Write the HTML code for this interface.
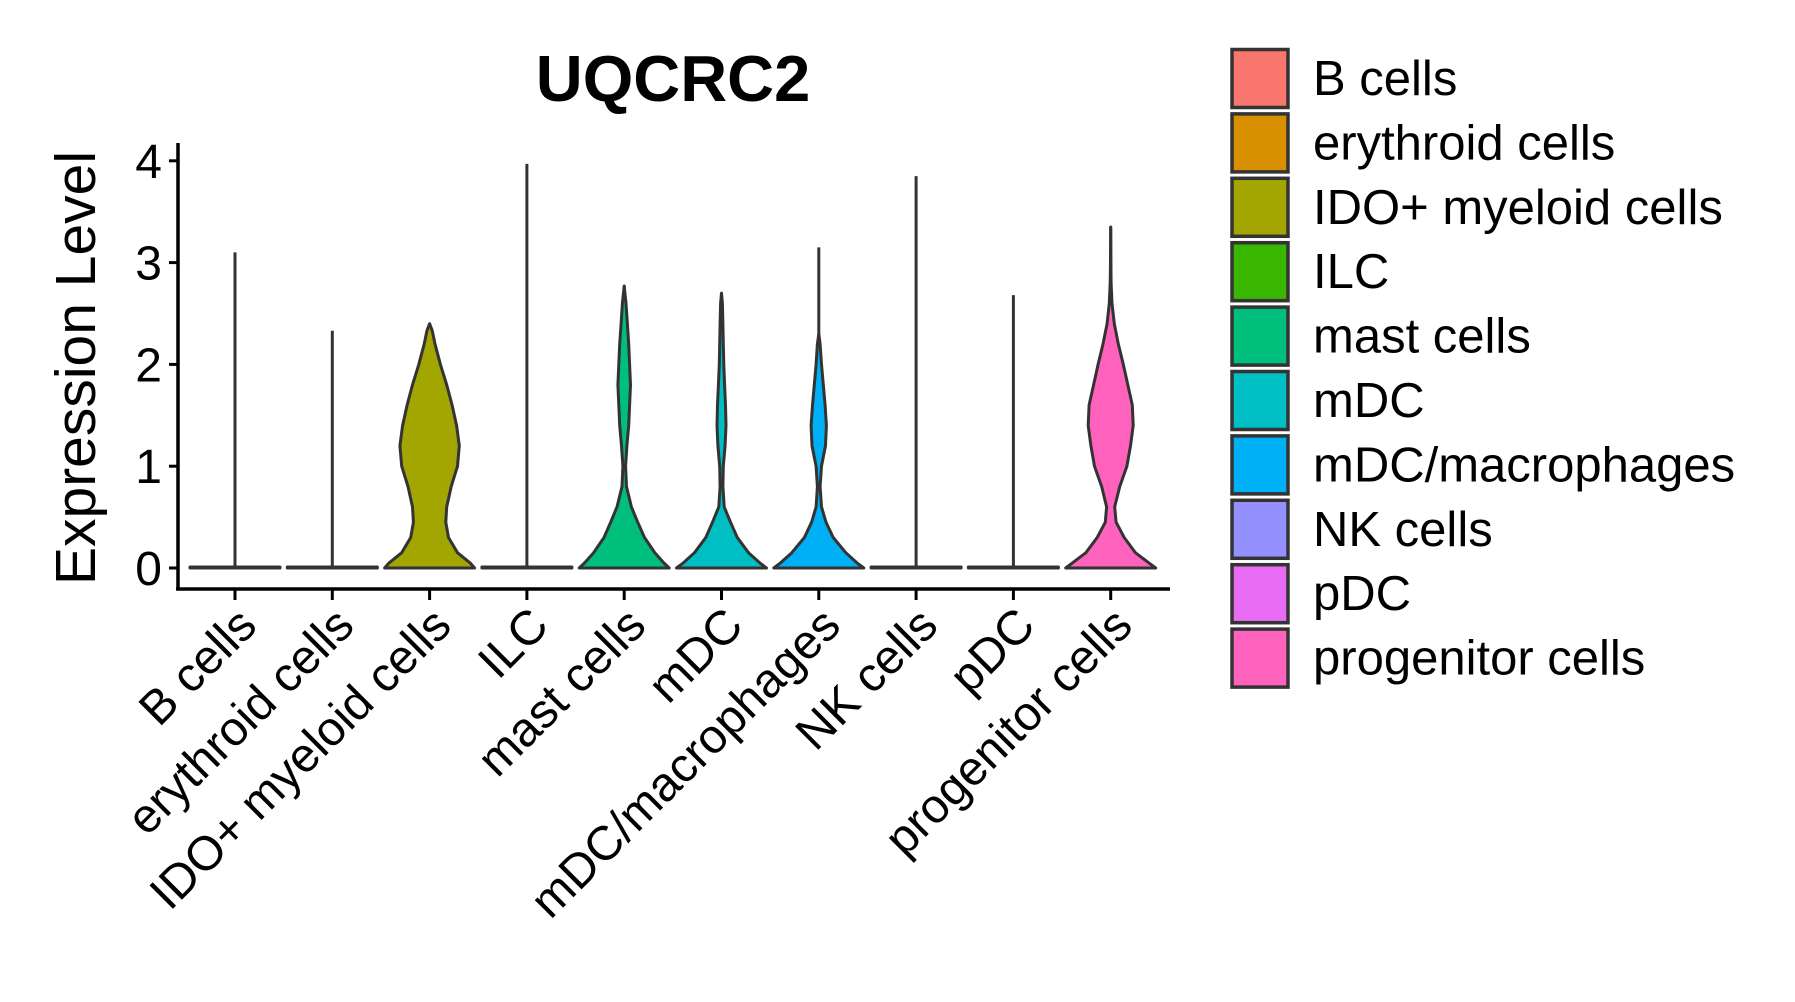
<!DOCTYPE html>
<html><head><meta charset="utf-8"><style>
body{margin:0;background:#fff}
svg{display:block;font-family:"Liberation Sans",Arial,sans-serif}
</style></head><body>
<svg id="chart" width="1795" height="1002" viewBox="0 0 1795 1002" xmlns="http://www.w3.org/2000/svg">
<rect width="1795" height="1002" fill="#fff"/>
<text x="673" y="101" font-size="65" font-weight="bold" text-anchor="middle">UQCRC2</text>
<text transform="translate(95,368) rotate(-90)" font-size="57" text-anchor="middle">Expression Level</text>
<g id="plot"></g>
<g id="legend"></g>
</svg>
<script>
const categories=["B cells","erythroid cells","IDO+ myeloid cells","ILC","mast cells","mDC","mDC/macrophages","NK cells","pDC","progenitor cells"];
const colors=["#F8766D","#D89000","#A3A500","#39B600","#00BF7D","#00BFC4","#00B0F6","#9590FF","#E76BF3","#FF62BC"];
const maxValues=[3.1,2.33,2.4,3.97,2.77,2.7,3.15,3.85,2.68,3.35];
const densLevels=[
 [0,0.01],[0,0.01],
 [0,0.05,0.15,0.3,0.45,0.6,0.8,1.0,1.2,1.4,1.6,1.8,2.0,2.2,2.33,2.4],
 [0,0.01],
 [0,0.05,0.15,0.3,0.45,0.6,0.8,1.0,1.2,1.4,1.6,1.8,2.0,2.2,2.4,2.6,2.77],
 [0,0.05,0.15,0.3,0.45,0.6,0.8,1.0,1.2,1.4,1.6,1.8,2.0,2.2,2.4,2.6,2.7],
 [0,0.05,0.15,0.3,0.45,0.6,0.8,1.0,1.2,1.4,1.6,1.8,2.0,2.2,2.3],
 [0,0.01],[0,0.01],
 [0,0.05,0.15,0.3,0.45,0.6,0.8,1.0,1.2,1.4,1.6,1.8,2.0,2.2,2.4,2.6,2.8,3.0,3.35]
];
const densWidths=[
 [1,1],[1,1],
 [1,0.9,0.62,0.42,0.36,0.38,0.48,0.62,0.66,0.6,0.5,0.38,0.24,0.12,0.06,0],
 [1,1],
 [1,0.88,0.68,0.45,0.3,0.16,0.05,0.03,0.06,0.1,0.12,0.14,0.12,0.1,0.07,0.04,0],
 [1,0.85,0.6,0.35,0.2,0.06,0.03,0.04,0.08,0.1,0.09,0.07,0.05,0.04,0.03,0.02,0],
 [1,0.85,0.6,0.32,0.16,0.06,0.03,0.06,0.15,0.17,0.14,0.1,0.06,0.03,0],
 [1,1],[1,1],
 [1,0.85,0.55,0.3,0.12,0.09,0.2,0.36,0.44,0.5,0.48,0.38,0.28,0.17,0.08,0.03,0.01,0.005,0]
];
const yTicks=[0,1,2,3,4];
const NS="http://www.w3.org/2000/svg";
const X0=178,X1=1170,Y0=568,UNIT=101.8,STEP=97.3,XS=235,HW=45;
const xPos=i=>XS+STEP*i, yPos=v=>Y0-v*UNIT;
function mk(t,a,p){const e=document.createElementNS(NS,t);for(const k in a)e.setAttribute(k,a[k]);(p||document.getElementById('plot')).appendChild(e);return e;}
let ax=mk('line',{x1:X0,y1:143,x2:X0,y2:590,stroke:'#000','stroke-width':3.5});


let bx=mk('line',{x1:X0-2,y1:589,x2:X1,y2:589,stroke:'#000','stroke-width':3.5});


yTicks.forEach(v=>{
 const t=mk('line',{x1:X0-9,y1:yPos(v),x2:X0,y2:yPos(v),stroke:'#000','stroke-width':3});
 
 
 const l=mk('text',{x:X0-16,y:yPos(v)+17,'font-size':48,'text-anchor':'end'});
 l.textContent=v;
 
 
});
categories.forEach((c,i)=>{
 const cx=xPos(i);
 const ln=mk('line',{x1:cx,y1:yPos(0),x2:cx,y2:yPos(maxValues[i]),stroke:'#333','stroke-width':3});
 
 
 const lv=densLevels[i],wd=densWidths[i];
 let r=[],l=[];
 for(let k=0;k<lv.length;k++){r.push((cx+wd[k]*HW).toFixed(1)+','+yPos(lv[k]).toFixed(1));l.unshift((cx-wd[k]*HW).toFixed(1)+','+yPos(lv[k]).toFixed(1));}
 const p=mk('polygon',{points:r.concat(l).join(' '),fill:colors[i],stroke:'#333','stroke-width':3,'stroke-linejoin':'round'});
 
 
 const t=mk('line',{x1:cx,y1:589,x2:cx,y2:600,stroke:'#000','stroke-width':3});
 
 
 const lb=mk('text',{transform:`translate(${cx+24},${628}) rotate(-45)`,'font-size':48,'text-anchor':'end'});
 lb.textContent=c;
 
 
});
const lg=document.getElementById('legend');
categories.forEach((c,i)=>{
 const y=48+64.4*i;
 const g=mk('g',{},lg);
 
 
 const r=mk('rect',{x:1232,y:y+1.5,width:56,height:58,fill:colors[i],stroke:'#333','stroke-width':3.5},g);
 
 
 const t=mk('text',{x:1313,y:y+47,'font-size':49},g);
 t.textContent=c;
 
 
});
</script>
</body></html>
